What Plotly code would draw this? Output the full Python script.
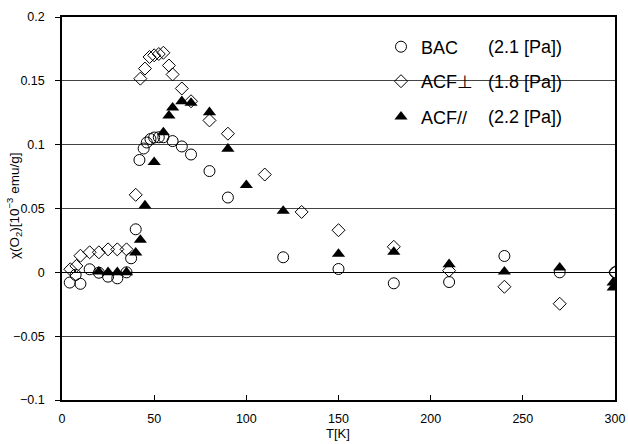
import plotly.graph_objects as go

# BAC (open circles)
bac_T = [4.2, 7.4, 10, 15, 20, 25, 30, 35, 37.5, 40, 42, 44.3, 46, 48, 50, 52.5, 55, 60, 65, 70, 80, 90, 120, 150, 180, 210, 240, 270, 300]
bac_v = [-0.008, -0.002, -0.009, 0.0024, -0.0003, -0.0034, -0.0047, 0.0, 0.011, 0.0337, 0.088, 0.097, 0.1017, 0.1044, 0.1056, 0.1058, 0.1058, 0.1028, 0.0986, 0.0923, 0.0793, 0.0586, 0.0118, 0.0026, -0.0086, -0.0076, 0.0128, 0.0, 0.0]

# ACF perpendicular (open diamonds)
perp_T = [4.5, 7.8, 10, 15, 20, 25, 30, 35, 40, 42.5, 45, 47.5, 50, 52.5, 55, 58, 60, 65, 70, 80, 90, 110, 130, 150, 180, 210, 240, 270, 300]
perp_v = [0.0024, 0.005, 0.013, 0.0157, 0.0157, 0.018, 0.018, 0.018, 0.0607, 0.1517, 0.1596, 0.1687, 0.170, 0.171, 0.172, 0.162, 0.155, 0.144, 0.134, 0.119, 0.1086, 0.0766, 0.0473, 0.033, 0.020, 0.0013, -0.0113, -0.0246, 0.0]

# ACF parallel (filled triangles)
par_T = [20, 25, 30, 35, 40, 42.5, 45, 50, 55, 58, 60, 65, 70, 80, 90, 100, 120, 150, 180, 210, 240, 270, 299, 299]
par_v = [0.0005, 0.0, 0.0, 0.0, 0.0154, 0.0254, 0.0523, 0.0863, 0.1096, 0.1227, 0.129, 0.134, 0.1327, 0.1253, 0.0968, 0.0683, 0.0481, 0.0144, 0.016, 0.0063, 0.0005, 0.0036, -0.008, -0.012]

names = ["BAC", "ACF⊥", "ACF//"]
pressures = ["(2.1 [Pa])", "(1.8 [Pa])", "(2.2 [Pa])"]

x_ticks = [0, 50, 100, 150, 200, 250, 300]
y_ticks = [-0.1, -0.05, 0, 0.05, 0.1, 0.15, 0.2]
y_tick_text = ["−0.1", "−0.05", "0", "0.05", "0.1", "0.15", "0.2"]

FONT = "Liberation Sans, Arial, sans-serif"

fig = go.Figure()
fig.add_trace(go.Scatter(x=bac_T, y=bac_v, mode="markers", name=names[0], legend="legend",
                         marker=dict(symbol="circle-open", size=11, color="black", line=dict(width=1))))
fig.add_trace(go.Scatter(x=perp_T, y=perp_v, mode="markers", name=names[1], legend="legend2",
                         marker=dict(symbol="diamond-open", size=10, color="black", line=dict(width=1))))
fig.add_trace(go.Scatter(x=par_T, y=par_v, mode="markers", name=names[2], legend="legend3",
                         marker=dict(symbol="triangle-up", size=11.5, color="black", line=dict(width=0))))

# page pixel -> paper coordinates (plot area spans x 62..615, y 17..400 on the page)
def py_to_paper(py):
    return (400 - py) / 383.0


def px_to_paper(px):
    return (px - 62) / 553.0


leg_common = dict(xanchor="left", yanchor="middle", bgcolor="rgba(0,0,0,0)",
                  font=dict(family=FONT, size=18, color="black"), itemwidth=30,
                  borderwidth=0)
leg_x = px_to_paper(381)
rows = [47, 81.5, 117]
fig.update_layout(
    legend=dict(x=leg_x, y=py_to_paper(rows[0]), **leg_common),
    legend2=dict(x=leg_x, y=py_to_paper(rows[1]), **leg_common),
    legend3=dict(x=leg_x, y=py_to_paper(rows[2]), **leg_common),
)

for p, py in zip(pressures, rows):
    fig.add_annotation(x=px_to_paper(486), y=py_to_paper(py), xref="paper", yref="paper",
                       text=p, showarrow=False, xanchor="left", yanchor="middle",
                       font=dict(family=FONT, size=18, color="black"))

# axis titles
fig.add_annotation(x=px_to_paper(14), y=py_to_paper(206), xref="paper", yref="paper",
                   text="χ(O<sub>2</sub>)[10<sup>−3</sup> emu/g]", textangle=-90, showarrow=False,
                   xanchor="center", yanchor="middle", font=dict(family=FONT, size=13.5, color="black"))
fig.add_annotation(x=px_to_paper(338), y=py_to_paper(433), xref="paper", yref="paper",
                   text="T[K]", showarrow=False, xanchor="center", yanchor="middle",
                   font=dict(family=FONT, size=13, color="black"))

fig.update_layout(
    width=628, height=444,
    margin=dict(l=62, r=13, t=17, b=44),
    paper_bgcolor="white", plot_bgcolor="white",
    font=dict(family=FONT, size=12, color="black"),
    showlegend=True,
    xaxis=dict(range=[0, 300], tickvals=x_ticks, ticks="inside", ticklen=5, tickcolor="black",
               showgrid=False, zeroline=False, showline=True, linecolor="black", linewidth=1.5,
               mirror=True, automargin=False, ticklabelstandoff=6,
               tickfont=dict(size=12.5)),
    yaxis=dict(range=[-0.1, 0.2], tickvals=y_ticks, ticktext=y_tick_text, ticks="outside",
               ticklen=5, tickcolor="black", showgrid=True, gridcolor="#444", gridwidth=1,
               zeroline=True, zerolinecolor="black", zerolinewidth=1,
               showline=True, linecolor="black", linewidth=1.5, mirror=True, automargin=False,
               ticklabelstandoff=8, tickfont=dict(size=12.5)),
)

fig.write_html("out.html", config={"displayModeBar": False},
               post_script="document.body.style.margin='0';document.body.style.overflow='hidden';")
